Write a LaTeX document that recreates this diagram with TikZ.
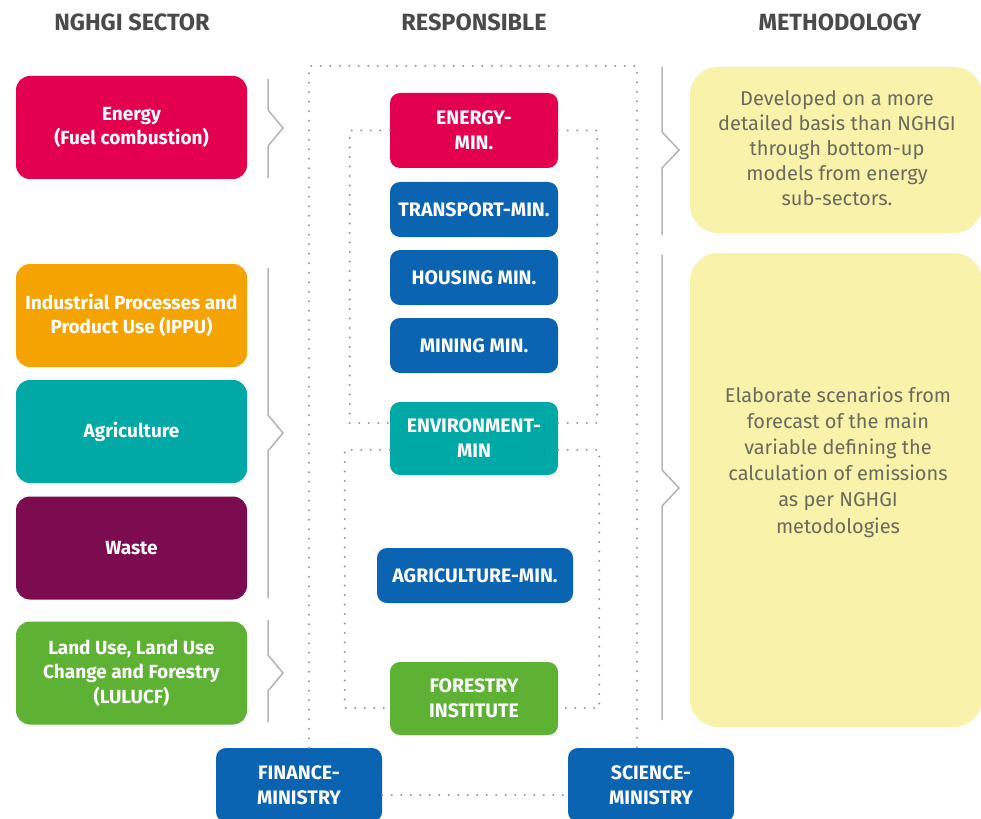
\documentclass[tikz,border=0pt]{standalone}
\usepackage{fontspec}
\setmainfont{Fira Sans}
\usetikzlibrary{calc}
\definecolor{crim}{HTML}{E2004F}
\definecolor{orng}{HTML}{F4A300}
\definecolor{teal2}{HTML}{00A9A6}
\definecolor{purp}{HTML}{7D0B50}
\definecolor{grn}{HTML}{5DB234}
\definecolor{blu}{HTML}{0A64B2}
\definecolor{yel}{HTML}{F8F2AB}
\definecolor{methtext}{HTML}{6B6B5B}
\definecolor{headc}{HTML}{4A4A4A}
\definecolor{brkc}{HTML}{B4B4B4}
\definecolor{dotc}{HTML}{9A9A9A}
\begin{document}
\begin{tikzpicture}[x=1pt,y=-1pt,
  sect/.style={rounded corners=14pt, fill=#1, text=white,
    font=\bfseries\fontsize{19}{24.3}\selectfont, align=center,
    minimum width=231pt, minimum height=103pt, inner sep=0pt},
  resp/.style={rounded corners=10pt, fill=#1, text=white,
    font=\bfseries\fontsize{19.5}{25}\selectfont, align=center,
    minimum width=168pt, minimum height=55pt, inner sep=0pt},
  meth/.style={rounded corners=28pt, fill=yel, minimum width=292pt, inner sep=0pt},
  methtxt/.style={text=methtext, font=\fontsize{20}{#1}\selectfont, align=center, inner sep=0pt},
  head/.style={text=headc, font=\bfseries\fontsize{23.5}{25}\selectfont, inner sep=0pt},
  brk/.style={draw=brkc, line width=1.5pt, line join=miter},
  dots/.style={draw=dotc, line width=2.3pt, line cap=round, dash pattern=on 0pt off 9.5pt}]
\useasboundingbox (0,0) rectangle (981,818);
\clip (0,0) rectangle (981,818);
\fill[white] (0,0) rectangle (981,818);

% headers
\node[head] (h1) at (132,22) {NGHGI SECTOR};
\node[head] (h2) at (474,22) {RESPONSIBLE};
\node[head] (h3) at (840,22) {METHODOLOGY};

% sector boxes
\node[sect=crim] (s1) at (131.5,127.5) {Energy\\(Fuel combustion)};
\node[sect=orng] (s2) at (131.5,315.5) {Industrial Processes and\\Product Use (IPPU)};
\node[sect=teal2] (s3) at (131.5,431.5) {Agriculture};
\node[sect=purp] (s4) at (131.5,548) {Waste};
\node[sect=grn] (s5) at (131.5,673) {Land Use, Land Use\\Change and Forestry\\(LULUCF)};

% brackets left
\draw[brk] (268,79) -- (268,110) -- (283,128) -- (268,146) -- (268,178);
\draw[brk] (268,268) -- (268,415) -- (283,433) -- (268,451) -- (268,598);
\draw[brk] (268,620) -- (268,655) -- (283,673) -- (268,691) -- (268,722);

% brackets right
\draw[brk] (662,67) -- (662,132) -- (679,150) -- (662,168) -- (662,235);
\draw[brk] (662,255) -- (662,470) -- (679,488) -- (662,506) -- (662,720);

% responsible boxes
\node[resp=crim, minimum height=75pt] (emin) at (474,130.5) {ENERGY-\\MIN.};
\node[resp=blu] (tmin) at (474,209.5) {TRANSPORT-MIN.};
\node[resp=blu] (hmin) at (474,277.5) {HOUSING MIN.};
\node[resp=blu] (mmin) at (474,345.5) {MINING MIN.};
\node[resp=teal2, minimum height=73pt] (env) at (474,438.5) {ENVIRONMENT-\\MIN};
\node[resp=blu, minimum width=196pt] (amin) at (475,575.5) {AGRICULTURE-MIN.};
\node[resp=grn, minimum height=73pt] (for) at (474,698.5) {FORESTRY\\INSTITUTE};
\node[resp=blu, minimum width=166pt, minimum height=74pt] (fin) at (299,785) {FINANCE-\\MINISTRY};
\node[resp=blu, minimum width=166pt, minimum height=74pt] (sci) at (651,785) {SCIENCE-\\MINISTRY};

% dotted links
\coordinate (otl) at (309,66);
\coordinate (otr) at (637,66);
\draw[dots] (fin.north -| otl) -- (otl) -- (otr) -- (sci.north -| otr);
\draw[dots] ([yshift=-10pt]fin.east) -- ([yshift=-10pt]sci.west);
\draw[dots] (emin.west) -- ++(-40,0) |- ([yshift=15.5pt]env.west);
\draw[dots] (emin.east) -- ++(39,0) |- ([yshift=15.5pt]env.east);
\draw[dots] ([yshift=-11.5pt]env.west) -- ++(-45,0) |- ([yshift=-9.5pt]for.west);
\draw[dots] ([yshift=-11.5pt]env.east) -- ++(41,0) |- ([yshift=-9.5pt]for.east);

% methodology boxes
\node[meth, minimum height=166pt] (m1) at (836,150) {};
\node[methtxt=25] (t1) at (837,148) {Developed on a more\\detailed basis than NGHGI\\through bottom-up\\models from energy\\sub-sectors.};
\node[meth, minimum height=474pt] (m2) at (836,490) {};
\node[methtxt=26.2] (t2) at (838,462) {Elaborate scenarios from\\forecast of the main\\variable defining the\\calculation of emissions\\as per NGHGI\\metodologies};
\end{tikzpicture}
\end{document}
